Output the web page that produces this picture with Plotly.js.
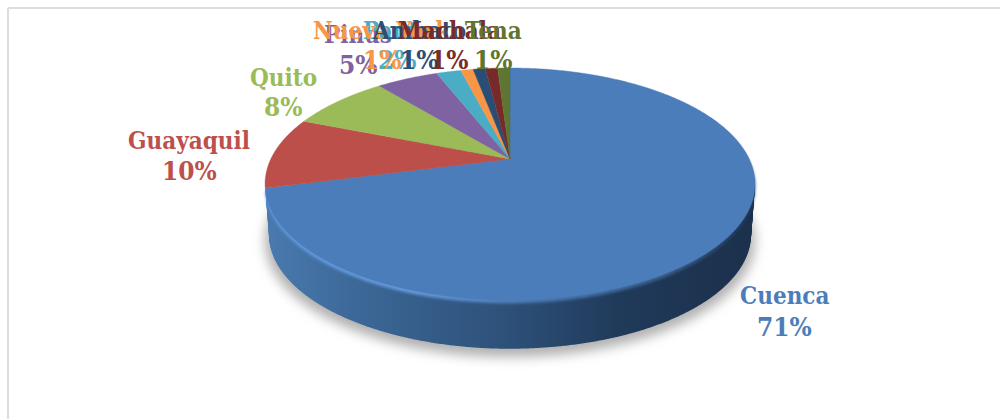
<!DOCTYPE html>
<html><head><meta charset="utf-8">
<script src="https://cdn.plot.ly/plotly-3.0.1.min.js"></script>
<style>html,body{margin:0;padding:0;background:#fff;overflow:hidden}#g{width:1000px;height:419px}</style>
</head><body><div id="g"></div>
<script>
const categories = ["Cuenca","Guayaquil","Quito","Pinus","Paute","Nueva York","Ambato","Machala","Tena"];
const shares = [71,10,8,5,2,1,1,1,1];
const faceColors = ["#4c7dba","#bd504c","#9bbb59","#7f62a1","#4bacc6","#f79646","#2c4d75","#772c2a","#5f7530"];
const sideColors = ["#2f5378","#8a3a37","#71893f","#5c4776","#358090","#b56d32","#1f3854","#551f1e","#445522"];
const labelX = [784,189,283,358,397,382,419,449,493];
const nameY  = [295,140,77,35,30,30,30,30,30];
const pctY   = [327,171,107,65,60,60,60,60,60];
const nameSize = 24, pctSize = 26;
const labelFont = "'DejaVu Serif Condensed','Liberation Serif',serif";

const DEPTH = 51, STEP = 1.5;
const depths = [];
for (let d = DEPTH; d > 0; d -= STEP) depths.push(d);

function pieTrace(colors){
  return {type:'pie',labels:categories,values:shares,sort:false,direction:'clockwise',rotation:0,
    textinfo:'none',hoverinfo:'skip',showlegend:false,domain:{x:[0,1],y:[0,1]},
    marker:{colors:colors,line:{width:0}}};
}
const data = [];
data.push(pieTrace(sideColors));            // shadow
depths.forEach(()=>data.push(pieTrace(sideColors)));
data.push(pieTrace(faceColors));            // rim
data.push(pieTrace(faceColors));            // top face

const annotations = [];
categories.forEach((c,i)=>{
  const base = {xref:'paper',yref:'paper',x:labelX[i]/1000,xanchor:'center',yanchor:'middle',showarrow:false};
  annotations.push(Object.assign({},base,{y:1-nameY[i]/419,text:'<b>'+c+'</b>',
    font:{family:labelFont,size:nameSize,color:faceColors[i]}}));
  annotations.push(Object.assign({},base,{y:1-pctY[i]/419,text:'<b>'+shares[i]+'%</b>',
    font:{family:labelFont,size:pctSize,color:faceColors[i]}}));
});
const layout = {width:1000,height:419,margin:{l:0,r:0,t:0,b:0},paper_bgcolor:'#fff',annotations:annotations,
  shapes:[
   {type:'line',xref:'paper',yref:'paper',x0:0.008,x1:0.008,y0:0,y1:1-8/419,line:{color:'#dedede',width:2}},
   {type:'line',xref:'paper',yref:'paper',x0:0.008,x1:1,y0:1-8/419,y1:1-8/419,line:{color:'#dedede',width:2}}
  ]};

Plotly.newPlot('g',data,layout,{displayModeBar:false,staticPlot:true}).then(gd=>{
  const CX=510,CY=159,R=239.2,RC=110.6,K=0.2155;
  const traces = gd.querySelectorAll('.pielayer .trace');
  const svg = gd.querySelector('.main-svg');
  const NS='http://www.w3.org/2000/svg';
  const defs = document.createElementNS(NS,'defs');
  defs.innerHTML =
   '<linearGradient id="sideGrad" gradientUnits="userSpaceOnUse" x1="265" y1="0" x2="755" y2="0">'+
     '<stop offset="0" stop-color="#4a7aaf"/><stop offset="0.22" stop-color="#3a6594"/>'+
     '<stop offset="0.5" stop-color="#2d5078"/><stop offset="0.72" stop-color="#203a5a"/>'+
     '<stop offset="1" stop-color="#1b304b"/></linearGradient>'+
   '<linearGradient id="rimGrad" gradientUnits="userSpaceOnUse" x1="265" y1="0" x2="755" y2="0">'+
     '<stop offset="0" stop-color="#5f9ae2"/><stop offset="0.3" stop-color="#659bdc"/>'+
     '<stop offset="0.52" stop-color="#4c7dba"/><stop offset="0.8" stop-color="#3a618f"/><stop offset="1" stop-color="#20395a"/></linearGradient>'+
   '<filter id="shadowBlur" x="-20%" y="-20%" width="140%" height="140%"><feGaussianBlur stdDeviation="6"/></filter>'+
   '<filter id="rimBlur" x="-5%" y="-5%" width="110%" height="110%"><feGaussianBlur stdDeviation="1.4"/></filter>'+
   '<filter id="faceBlur" x="-5%" y="-5%" width="110%" height="110%"><feGaussianBlur stdDeviation="0.5"/></filter>';
  svg.appendChild(defs);

  const cd0 = gd.calcdata[0][0], cx0=cd0.cx, cy0=cd0.cy, r0=cd0.r;
  function project(path,shift,scale){
    const len = path.getTotalLength(), n = Math.ceil(len/1.2), pts=[];
    for(let i=0;i<=n;i++){
      const p = path.getPointAtLength(len*i/n);
      const u=(p.x-cx0)/r0, v=(p.y-cy0)/r0, w=1-K*v;
      pts.push((CX+scale*R*u/w).toFixed(2)+','+(CY+shift+scale*RC*v/w).toFixed(2));
    }
    path.setAttribute('d','M'+pts.join('L')+'Z');
  }
  const n = traces.length;
  traces.forEach((t,i)=>{
    let shift=0, scale=1, fill=null;
    if(i===0){ shift=DEPTH+6; fill='#b0b0b0'; t.setAttribute('filter','url(#shadowBlur)'); t.setAttribute('opacity','0.55'); }
    else if(i<=depths.length){ shift=depths[i-1]; scale=1-0.016*shift/DEPTH; fill='url(#sideGrad)'; }
    else if(i===n-2){ shift=3.2; fill='url(#rimGrad)'; t.setAttribute('filter','url(#rimBlur)'); }
    else { t.setAttribute('filter','url(#faceBlur)'); }
    t.querySelectorAll('path.surface').forEach((p,j)=>{
      project(p,shift,scale);
      if(i<n-1){
        p.style.stroke='none';
        p.style.strokeWidth='0';
        if(j===0 || i===0) p.style.fill=fill;
        else p.style.fill='none';
      } else {
        p.style.stroke=faceColors[j];
        p.style.strokeWidth='0.4';
      }
    });
  });
});
</script></body></html>
